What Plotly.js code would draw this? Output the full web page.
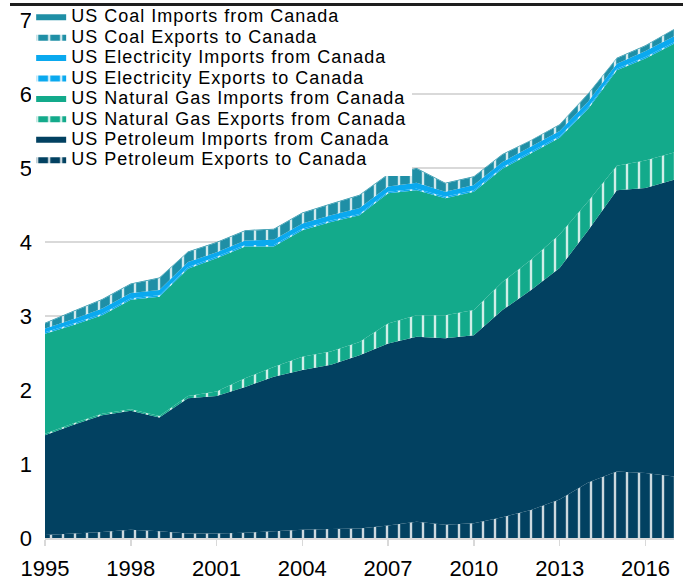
<!DOCTYPE html>
<html>
<head>
<meta charset="utf-8">
<script src="https://cdn.plot.ly/plotly-3.0.1.min.js"></script>
<style>
html,body{margin:0;padding:0;background:#fff;}
#wrap{position:relative;width:683px;height:580px;}
#chart{width:683px;height:580px;}
#topline{position:absolute;left:10px;top:3px;width:673px;height:2.5px;background:#1e1e1e;z-index:5;pointer-events:none;}
</style>
</head>
<body>
<div id="wrap"><div id="chart"></div><div id="topline"></div></div>
<script>
const years = [1995,1996,1997,1998,1999,2000,2001,2002,2003,2004,2005,2006,2007,2008,2009,2010,2011,2012,2013,2014,2015,2016,2017];
const petroleumExports = [0.04,0.06,0.08,0.11,0.09,0.06,0.06,0.07,0.09,0.11,0.12,0.13,0.17,0.22,0.18,0.20,0.28,0.38,0.52,0.75,0.90,0.88,0.83];
const petroleumImports = [1.35,1.47,1.58,1.61,1.54,1.83,1.86,1.97,2.09,2.16,2.22,2.34,2.46,2.50,2.52,2.54,2.80,2.97,3.13,3.41,3.80,3.85,4.01];
const natGasExports = [0.02,0.02,0.02,0.02,0.02,0.03,0.06,0.12,0.13,0.18,0.18,0.18,0.27,0.29,0.31,0.34,0.38,0.41,0.45,0.39,0.33,0.37,0.37];
const natGasImports = [1.35,1.33,1.33,1.48,1.61,1.72,1.80,1.78,1.63,1.71,1.75,1.71,1.76,1.69,1.58,1.60,1.53,1.44,1.31,1.25,1.29,1.38,1.47];
const elecExports = [0.02,0.02,0.02,0.02,0.02,0.02,0.02,0.02,0.02,0.02,0.02,0.02,0.02,0.02,0.02,0.02,0.02,0.02,0.02,0.02,0.02,0.02,0.02];
const elecImports = [0.05,0.06,0.07,0.07,0.07,0.07,0.06,0.06,0.07,0.07,0.07,0.08,0.07,0.08,0.07,0.07,0.07,0.07,0.07,0.08,0.07,0.08,0.08];
const coalExports = [0.07,0.10,0.12,0.12,0.16,0.13,0.13,0.13,0.14,0.14,0.15,0.17,0.16,0.19,0.11,0.11,0.10,0.08,0.08,0.10,0.07,0.07,0.09];
const coalImports = [0.01,0.01,0.01,0.01,0.01,0.01,0.01,0.01,0.01,0.01,0.01,0.01,0.01,0.01,0.01,0.01,0.01,0.01,0.01,0.01,0.01,0.01,0.01];
const xTicks = [1995,1998,2001,2004,2007,2010,2013,2016];
const yTicks = [0,1,2,3,4,5,6,7];

const COL = {petroleum:'#024161', gas:'#13aa8b', elec:'#0aa9ef', coal:'#1f8fa6'};
const FONT = 'Arial, "Liberation Sans", sans-serif';

function label(t){ return '<span style="font-size:18px;letter-spacing:1px">' + t + '</span>'; }

function series(name, y, color, hatched){
  const tr = {
    x: years, y: y, name: label(name), type: 'scatter', mode: 'none',
    stackgroup: 'one', fillcolor: color, line: {width: 0, shape: 'linear'},
    hoverinfo: 'skip'
  };
  if (hatched) {
    tr.fillpattern = {shape: '|', fgcolor: '#ffffff', bgcolor: color, size: 12, solidity: 0.2, fgopacity: 0.8};
  }
  return tr;
}

const data = [
  series('US Petroleum Exports to Canada', petroleumExports, COL.petroleum, true),
  series('US Petroleum Imports from Canada', petroleumImports, COL.petroleum, false),
  series('US Natural Gas Exports from Canada', natGasExports, COL.gas, true),
  series('US Natural Gas Imports from Canada', natGasImports, COL.gas, false),
  series('US Electricity Exports to Canada', elecExports, COL.elec, true),
  series('US Electricity Imports from Canada', elecImports, COL.elec, false),
  series('US Coal Exports to Canada', coalExports, COL.coal, true),
  series('US Coal Imports from Canada', coalImports, COL.coal, false)
];

const layout = {
  width: 683, height: 580,
  margin: {l: 45, r: 9, t: 20, b: 42, pad: 0, autoexpand: false},
  paper_bgcolor: '#ffffff', plot_bgcolor: '#ffffff',
  font: {family: FONT, color: '#000000'},
  showlegend: true,
  legend: {
    x: -0.022, xanchor: 'left', y: 1.0347, yanchor: 'top',
    traceorder: 'reversed', bgcolor: '#ffffff', borderwidth: 0,
    font: {family: FONT, size: 13.4, color: '#000000'}
  },
  xaxis: {
    range: [1995, 2017], tickmode: 'array', tickvals: xTicks, ticktext: xTicks.map(String),
    showgrid: false, zeroline: false, showline: true, linecolor: '#d9d9d9', linewidth: 1.5,
    ticks: 'outside', ticklen: 6, tickwidth: 1.5, tickcolor: '#d9d9d9', ticklabelstandoff: 4,
    tickfont: {family: FONT, size: 22, color: '#000000'}, fixedrange: true
  },
  yaxis: {
    range: [0, 7], tickmode: 'array', tickvals: yTicks, ticktext: yTicks.map(String),
    showgrid: true, gridcolor: '#d9d9d9', gridwidth: 1.5, zeroline: false, showline: false,
    ticks: '', ticklabelstandoff: 12,
    tickfont: {family: FONT, size: 22, color: '#000000'}, fixedrange: true
  }
};

Plotly.newPlot('chart', data, layout, {staticPlot: true, displayModeBar: false});
</script>
</body>
</html>
